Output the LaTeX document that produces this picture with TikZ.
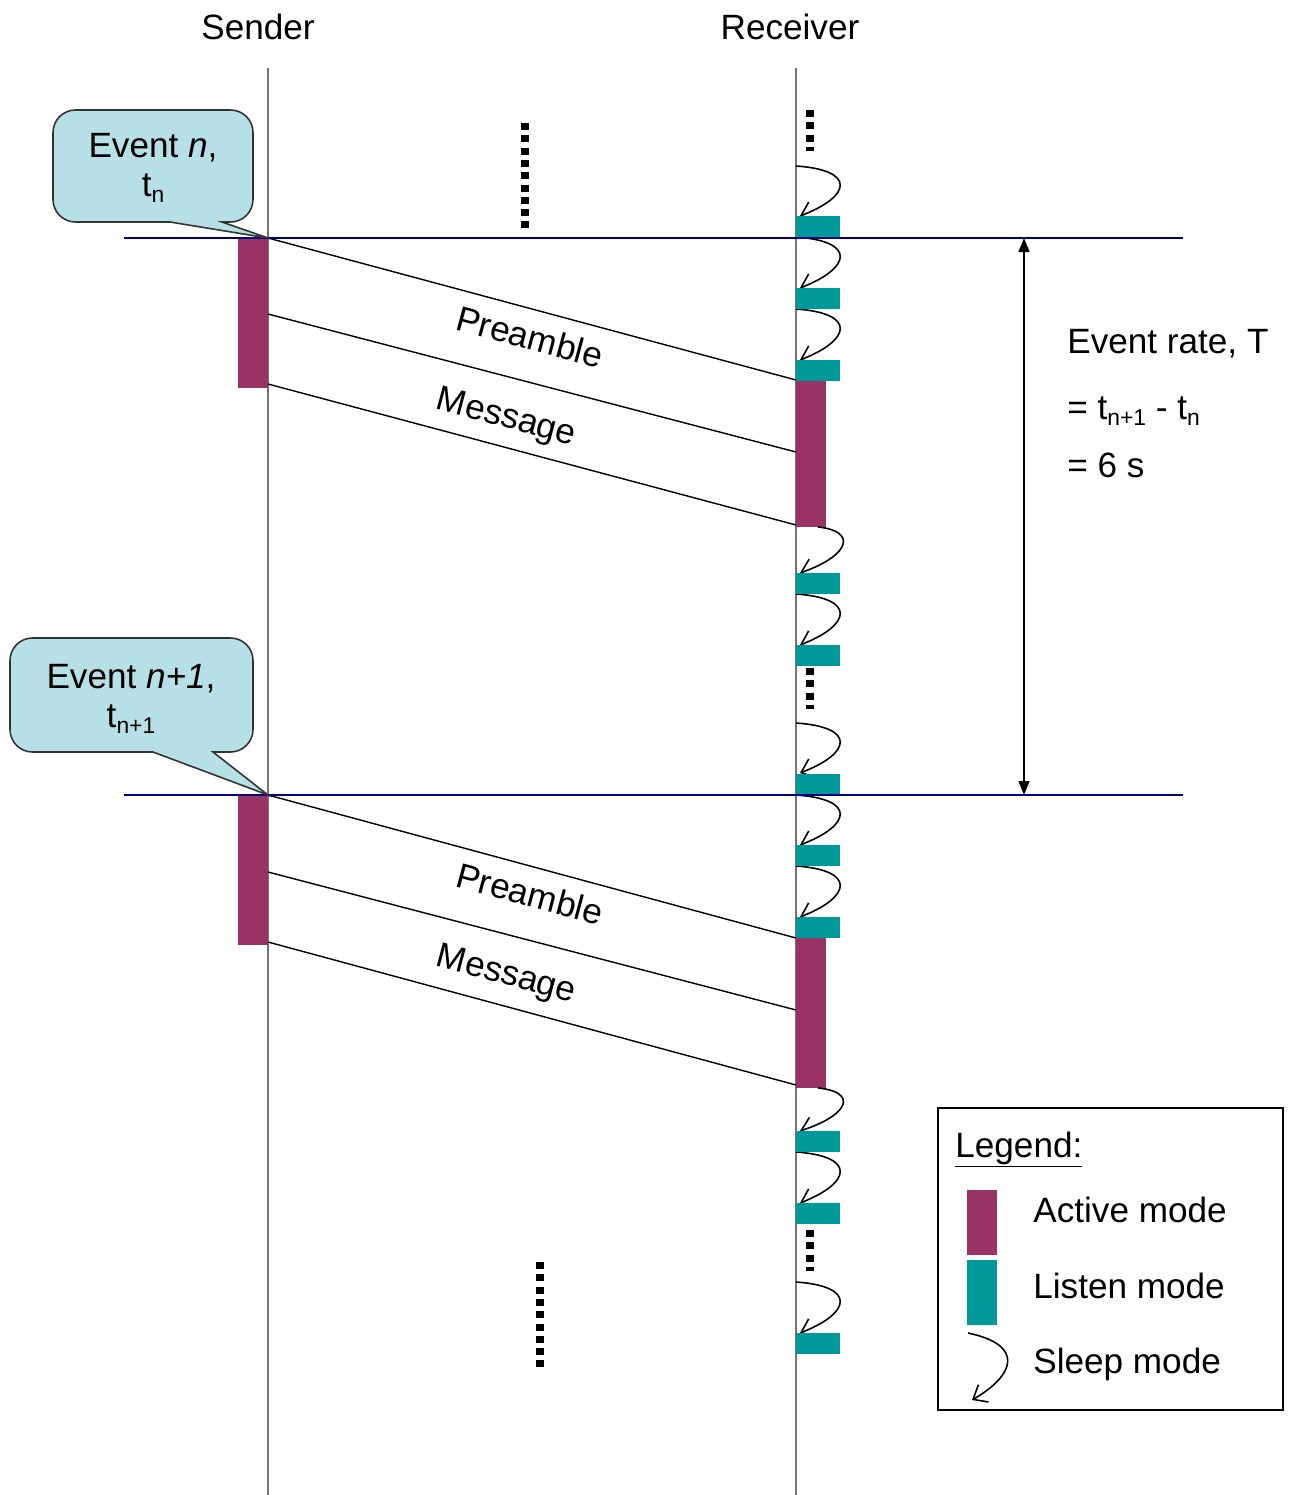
\documentclass[tikz,border=0pt]{standalone}
\usepackage{fontspec}
\setmainfont{Liberation Sans}
\usepackage{xcolor}
\usetikzlibrary{arrows.meta}

\definecolor{activecol}{RGB}{153,51,102}
\definecolor{listencol}{RGB}{0,153,153}
\definecolor{calloutcol}{RGB}{183,224,230}
\definecolor{eventcol}{RGB}{0,0,128}

% lowered small text for t_n
\newcommand{\sbs}[1]{\raisebox{-0.35ex}{\fontsize{13}{13}\selectfont #1}}

\begin{document}
\begin{tikzpicture}[x=0.02cm, y=-0.02cm, font=\fontsize{20}{24}\selectfont,
    lifeline/.style={draw=black!55, line width=0.9pt},
    eventline/.style={draw=eventcol, line width=1.3pt},
    msg/.style={draw=black, line width=0.8pt},
    sleep/.style={draw=black, line width=0.9pt, -{Straight Barb[length=2.4mm, width=4mm]}},
    dotcol/.style={draw=black, line width=4pt, dash pattern=on 4pt off 3pt},
    callout/.style={draw=black!80, fill=calloutcol, line width=0.9pt},
    lbl/.style={rotate=-15, inner sep=0pt}]
    \useasboundingbox (0,0) rectangle (1291,1495);

    % Heads
    \node[anchor=base] (sender) at (258,39) {Sender};
    \node[anchor=base] (receiver) at (790,39) {Receiver};

    % Lifelines
    \coordinate (stop) at (268,68);
    \coordinate (sbot) at (268,1495);
    \coordinate (rtop) at (796,68);
    \coordinate (rbot) at (796,1495);
    \draw[lifeline] (stop) -- (sbot);
    \draw[lifeline] (rtop) -- (rbot);

    % Sender active bars
    \fill[activecol] (238,238) rectangle (268,388);
    \fill[activecol] (238,795) rectangle (268,945);

    % Receiver active bars
    \fill[activecol] (796,380) rectangle (826,527);
    \fill[activecol] (796,937) rectangle (826,1088);

    % Sleep arcs
    \foreach \sx/\a/\b in {796/166/216, 796/237/288, 796/309/360, 818/527/573,
        796/594/645, 796/723/773, 796/795/845, 796/866/917, 818/1088/1131,
        796/1152/1203, 796/1282/1333}
        \draw[sleep] (\sx,\a) .. controls (856,{\a+0.08*(\b-\a)}) and (852,{\a+0.6*(\b-\a)}) .. (800,\b);

    % Listen blocks
    \foreach \t in {216,288,360,573,645,774,845,917,1131,1203,1333}
        \fill[listencol] (796,\t) rectangle (840,{\t+21});

    % Dots
    \draw[dotcol] (810,110) -- (810,151);
    \draw[dotcol] (810,668) -- (810,709);
    \draw[dotcol] (810,1230) -- (810,1271);
    \draw[dotcol] (525,123) -- (525,229);
    \draw[dotcol] (540,1262) -- (540,1368);

    % Messages, event n
    \coordinate (sa1) at (268,238);
    \coordinate (sb1) at (268,314);
    \coordinate (sc1) at (268,384);
    \coordinate (ra1) at (796,380);
    \coordinate (rb1) at (796,452);
    \coordinate (rc1) at (796,525);
    \draw[msg] (sa1) -- (ra1);
    \draw[msg] (sb1) -- (rb1);
    \draw[msg] (sc1) -- (rc1);
    \node[lbl] (pre1) at (530,337) {Preamble};
    \node[lbl] (mes1) at (506,419) {Message};

    % Messages, event n+1
    \coordinate (sa2) at (268,795);
    \coordinate (sb2) at (268,872);
    \coordinate (sc2) at (268,942);
    \coordinate (ra2) at (796,938);
    \coordinate (rb2) at (796,1010);
    \coordinate (rc2) at (796,1085);
    \draw[msg] (sa2) -- (ra2);
    \draw[msg] (sb2) -- (rb2);
    \draw[msg] (sc2) -- (rc2);
    \node[lbl] (pre2) at (530,894) {Preamble};
    \node[lbl] (mes2) at (506,976) {Message};

    % Event lines
    \coordinate (ea1) at (124,238);
    \coordinate (eb1) at (1183,238);
    \coordinate (ea2) at (124,795);
    \coordinate (eb2) at (1183,795);
    \draw[eventline] (ea1) -- (eb1);
    \draw[eventline] (ea2) -- (eb2);

    % Callouts
    \draw[callout] (170,222) [rounded corners=0.45cm] -- (53,222) -- (53,110) -- (253,110) -- (253,222) [sharp corners] -- (222,222) -- (268,238) -- cycle;
    \node[anchor=base] (ev1) at (153,157) {Event \textit{n},};
    \node[anchor=base] (tn1) at (153,196) {t\sbs{n}};
    \draw[callout] (153,752) [rounded corners=0.45cm] -- (10,752) -- (10,638) -- (253,638) -- (253,752) [sharp corners] -- (213,752) -- (268,795) -- cycle;
    \node[anchor=base] (ev2) at (131,688) {Event \textit{n+1},};
    \node[anchor=base] (tn2) at (131,727) {t\sbs{n+1}};

    % Period
    \coordinate (ta) at (1024,238);
    \coordinate (tb) at (1024,795);
    \draw[{Triangle[length=0.28cm, width=0.22cm]}-{Triangle[length=0.28cm, width=0.22cm]}, line width=0.8pt] (ta) -- (tb);
    \node[anchor=base west, inner sep=0pt] (rate) at (1067,353) {Event rate, T};
    \node[anchor=base west, inner sep=0pt] (diff) at (1067,419) {= t\sbs{n+1} - t\sbs{n}};
    \node[anchor=base west, inner sep=0pt] (val) at (1067,477) {= 6 s};

    % Legend
    \draw[line width=0.8pt] (938,1108) rectangle (1283,1410);
    \node[anchor=base west, inner sep=0pt] (legtitle) at (955,1157) {\underline{Legend:}};
    \fill[activecol] (967,1190) rectangle (997,1255);
    \fill[listencol] (967,1260) rectangle (997,1325);
    \draw[sleep] (968,1333) .. controls (1025,1345) and (1015,1375) .. (972,1400);
    \node[anchor=base west, inner sep=0pt] (legact) at (1033,1222) {Active mode};
    \node[anchor=base west, inner sep=0pt] (leglis) at (1033,1298) {Listen mode};
    \node[anchor=base west, inner sep=0pt] (legslp) at (1033,1373) {Sleep mode};
\end{tikzpicture}
\end{document}
